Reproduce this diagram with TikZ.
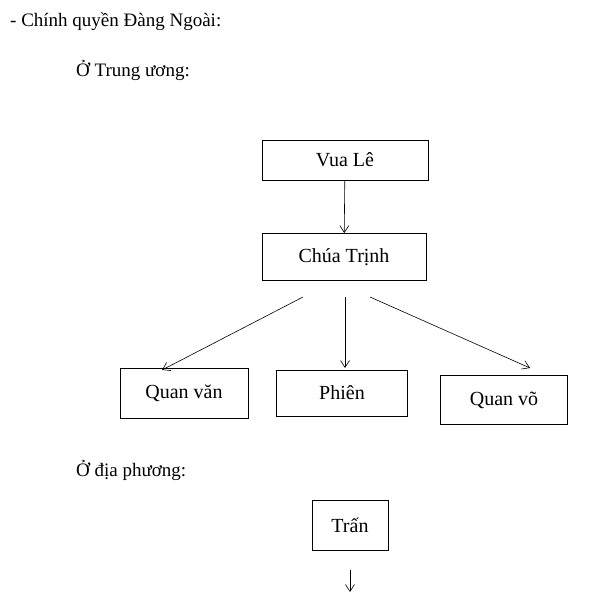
\documentclass[tikz,border=0pt]{standalone}
\usepackage{fontspec}
\setmainfont{Liberation Serif}
\usetikzlibrary{arrows.meta}
\begin{document}
\begin{tikzpicture}[x=1pt,y=-1pt,
  box/.style={draw,line width=0.8pt,inner sep=0pt,font=\fontsize{20}{22}\selectfont},
  txt/.style={anchor=west,inner sep=0pt,font=\fontsize{19}{22}\selectfont},
  arr/.style={-{Straight Barb[length=7pt,width=9pt]},line width=0.6pt}]
\useasboundingbox (0,0) rectangle (600,597);
\node[txt] (t1) at (10,22) {- Chính quyền Đàng Ngoài:};
\node[txt] (t2) at (76,70) {Ở Trung ương:};
\node[box,minimum width=166pt,minimum height=40pt] (vua) at (345,160) {Vua Lê};
\node[box,minimum width=164pt,minimum height=47pt] (chua) at (344,257) {Chúa Trịnh};
\node[box,minimum width=128pt,minimum height=50pt] (van) at (184,393) {Quan văn};
\node[box,minimum width=131pt,minimum height=46pt] (phien) at (342,393) {Phiên};
\node[box,minimum width=127pt,minimum height=49pt] (vo) at (504,400) {Quan võ};
\node[txt] (t3) at (76,470) {Ở địa phương:};
\node[box,minimum width=76pt,minimum height=50pt] (tran) at (350,525) {Trấn};
\coordinate (a) at (303,297);
\coordinate (b) at (345,297);
\coordinate (be) at (345,368);
\coordinate (c) at (370,297);
\coordinate (d) at (350,570);
\coordinate (e) at (350,592);
\draw[arr] (vua) -- (chua);
\draw[arr] (a) -- (162,370) coordinate (ae);
\draw[arr] (b) -- (be);
\draw[arr] (c) -- (530,368) coordinate (ce);
\draw[arr] (d) -- (e);
\end{tikzpicture}
\end{document}
